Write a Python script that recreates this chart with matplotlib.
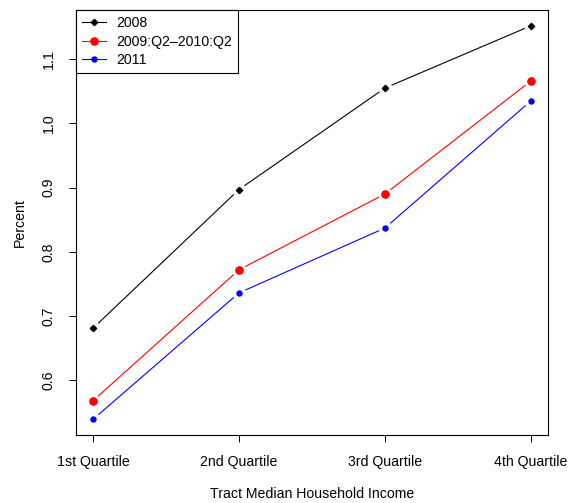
import matplotlib
matplotlib.use("Agg")
import matplotlib.pyplot as plt
from matplotlib.lines import Line2D

plt.rcParams['font.family'] = ['Liberation Sans', 'DejaVu Sans']

quartiles = ['1st Quartile', '2nd Quartile', '3rd Quartile', '4th Quartile']
labels = ['2008', '2009:Q2\u20132010:Q2', '2011']
v2008 = [0.681, 0.897, 1.055, 1.152]
v2009 = [0.568, 0.772, 0.890, 1.066]
v2011 = [0.539, 0.736, 0.837, 1.035]

series = [v2008, v2009, v2011]
colors = ['black', 'red', 'blue']
markers = ['D', 'o', 'o']
msizes = [3.2, 5.2, 3.6]
fs = 10.2

fig = plt.figure(figsize=(5.73, 5.03), dpi=100)
ax = fig.add_axes([0.1318, 0.135, 0.8252, 0.845])

x = [1, 2, 3, 4]
for vals, c, m, ms in zip(series, colors, markers, msizes):
    ax.plot(x, vals, color=c, lw=0.8, zorder=2)
    # white halo gives the gap around points like R type="b"
    ax.plot(x, vals, ls='none', marker='o', ms=9, mfc='white', mec='white', zorder=3)
    ax.plot(x, vals, ls='none', marker=m, ms=ms, mfc=c, mec=c, zorder=4)

ymin, ymax = min(v2011), max(v2008)
pad = (ymax - ymin) * 0.04
ax.set_ylim(ymin - pad, ymax + pad)
ax.set_xlim(1 - 0.12, 4 + 0.12)

ax.set_xticks(x)
ax.set_xticklabels(quartiles)
ax.set_yticks([0.6, 0.7, 0.8, 0.9, 1.0, 1.1])
ax.set_yticklabels(['0.6', '0.7', '0.8', '0.9', '1.0', '1.1'], rotation=90, va='center')
ax.tick_params(direction='out', length=5.2, width=0.7, labelsize=fs, pad=9)
for s in ax.spines.values():
    s.set_linewidth(0.8)

ax.set_xlabel('Tract Median Household Income', fontsize=fs, labelpad=13)
ax.set_ylabel('Percent', fontsize=fs, labelpad=11)

handles = [Line2D([], [], color=c, lw=0.8, marker=m, ms=ms, mfc=c, mec=c)
           for c, m, ms in zip(colors, markers, msizes)]
leg = ax.legend(handles, labels, loc='upper left', bbox_to_anchor=(0, 1),
                borderaxespad=0, fancybox=False, edgecolor='black', framealpha=1,
                fontsize=fs, handlelength=1.7, handletextpad=0.7,
                labelspacing=0.3, borderpad=0.45)
leg.get_frame().set_linewidth(0.8)

fig.savefig('out.png', dpi=100)
